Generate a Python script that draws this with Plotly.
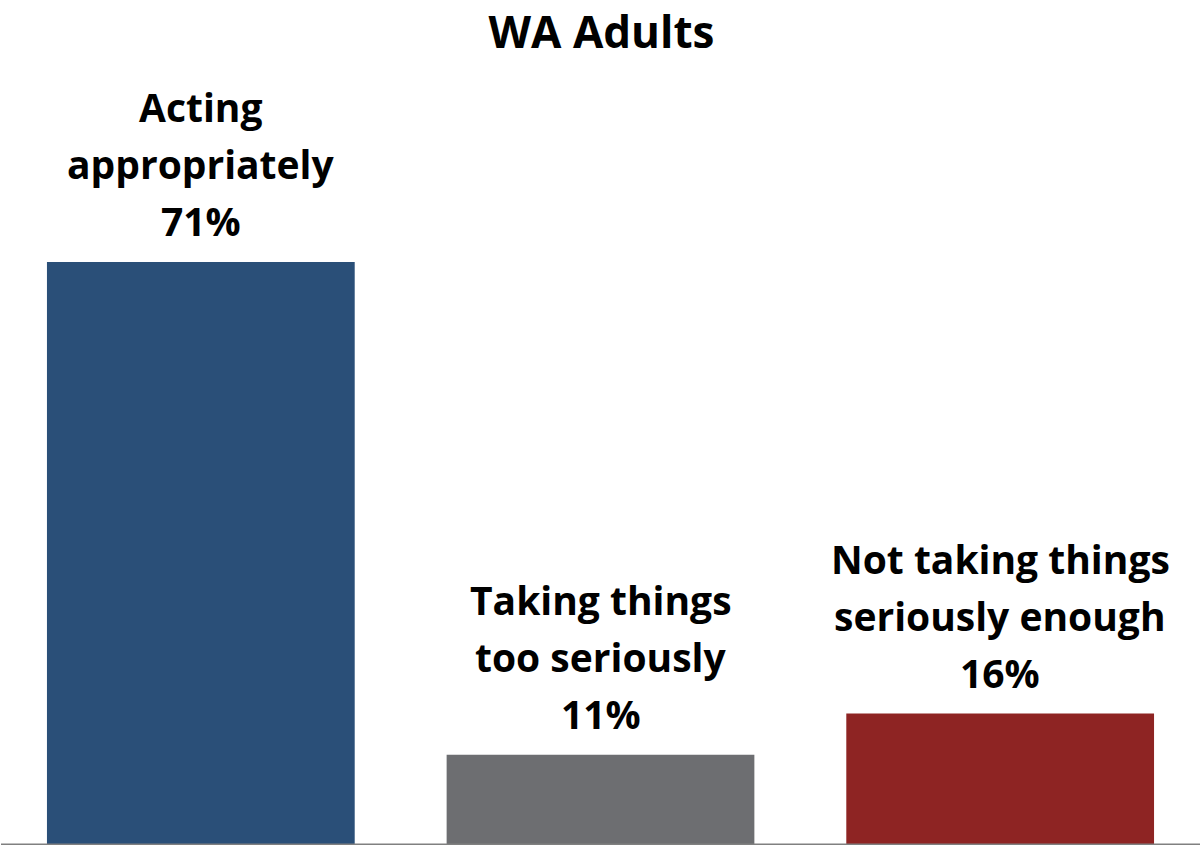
import plotly.graph_objects as go

# Respuesta de adultos en WA
categorias = ["Acting appropriately", "Taking things too seriously",
              "Not taking things seriously enough"]
valores = [71, 11, 16]
etiquetas = [["Acting", "appropriately"],
             ["Taking things", "too seriously"],
             ["Not taking things", "seriously enough"]]
colores = ["#2A4F78", "#6D6E71", "#8E2423"]

FUENTE = "'Open Sans', sans-serif"

fig = go.Figure()
fig.add_trace(go.Bar(x=categorias, y=valores, marker=dict(color=colores, line=dict(width=0)),
                     width=0.77, showlegend=False, hoverinfo="skip"))

# etiquetas encima de cada barra, una línea por anotación para controlar el interlineado
for cat, val, lineas in zip(categorias, valores, etiquetas):
    todas = lineas + [f"{val}%"]
    n = len(todas)
    for i, txt in enumerate(todas):
        fig.add_annotation(x=cat, y=val, text=f"<b>{txt}</b>", showarrow=False,
                           yanchor="bottom", yshift=13 + (n - 1 - i) * 57,
                           font=dict(family=FUENTE, size=39, color="black"))

fig.update_layout(
    width=1203, height=851,
    title=dict(text="<b>WA Adults</b>", x=0.5, xanchor="center", y=0.962, yanchor="middle",
               font=dict(family=FUENTE, size=44, color="black")),
    margin=dict(l=1, r=3, t=60, b=6),
    plot_bgcolor="white", paper_bgcolor="white",
    bargap=0.23,
    xaxis=dict(showticklabels=False, showgrid=False, zeroline=False,
               showline=False, ticks=""),
    yaxis=dict(range=[0, 95.6], visible=False, showgrid=False, zeroline=False),
)
fig.add_shape(type="line", xref="paper", yref="y", x0=0, x1=1, y0=0, y1=0,
              line=dict(color="#808080", width=3))

fig.write_html("out.html", config={"displayModeBar": False},
               post_script="document.body.style.margin='0';")
